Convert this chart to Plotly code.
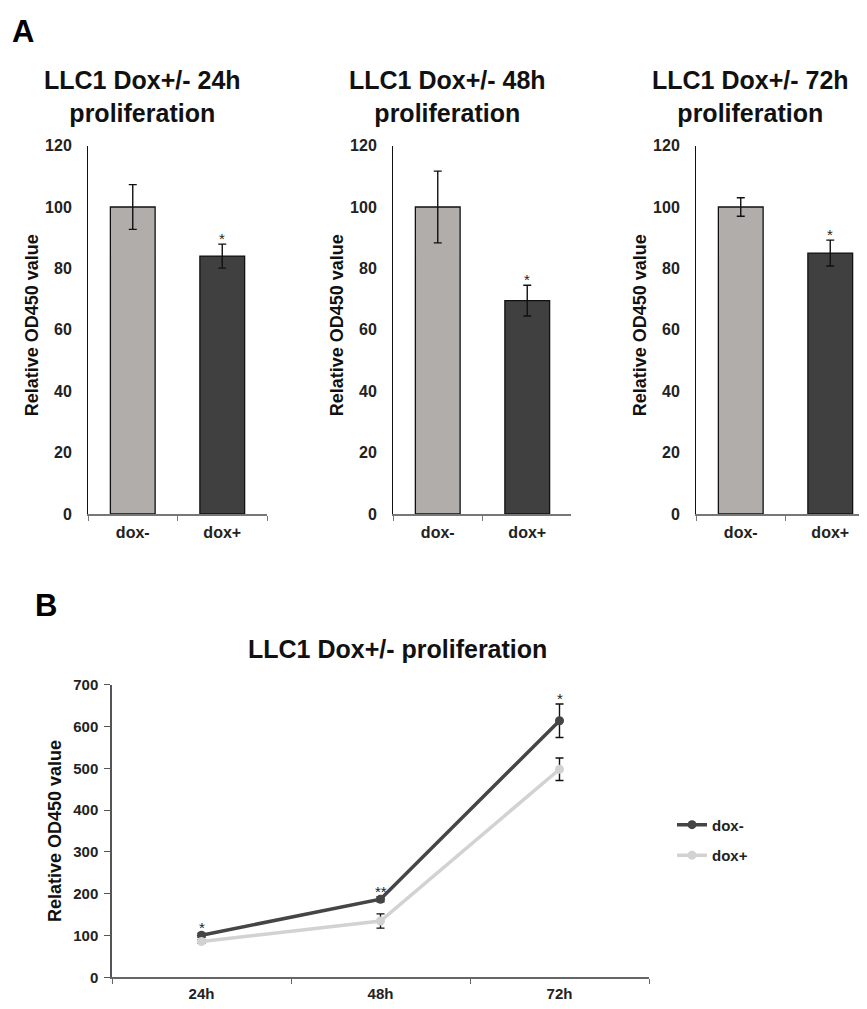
import plotly.graph_objects as go

# page body has an 8px default margin, so the figure is laid out in page
# coordinates shifted by OFF
OFF = 8
W, H = 867 - OFF, 1009 - OFF

# ---------------- data ----------------
bar_categories = ["dox-", "dox+"]
bar_titles = ["LLC1 Dox+/- 24h<br>proliferation",
              "LLC1 Dox+/- 48h<br>proliferation",
              "LLC1 Dox+/- 72h<br>proliferation"]
vals_24h = [100, 84]
errs_24h = [7.3, 3.9]
vals_48h = [100, 69.5]
errs_48h = [11.7, 5.0]
vals_72h = [100, 85]
errs_72h = [3.0, 4.2]
bar_y_ticks = [0, 20, 40, 60, 80, 100, 120]

time_points = ["24h", "48h", "72h"]
dox_minus = [101, 187, 614]
dox_minus_err = [5, 6, 40]
dox_plus = [86, 135, 498]
dox_plus_err = [4, 17, 27]
line_y_ticks = [0, 100, 200, 300, 400, 500, 600, 700]
line_title = "LLC1 Dox+/- proliferation"
stars_line = ["*", "**", "*"]
y_title = "Relative OD450 value"

# ---------------- style ----------------
FONT = "Liberation Sans"
LIGHT = "#b0adab"
DARK = "#404040"
LINE_DARK = "#454545"
LINE_LIGHT = "#d2d2d2"


def px(x):
    return (x - OFF) / W


def py(y):
    return 1 - (y - OFF) / H


def xd(a, b):
    return [max(0, px(a)), min(1, px(b))]


def yd(top, bottom):
    return [py(bottom), py(top)]


fig = go.Figure()

bar_sets = [(vals_24h, errs_24h), (vals_48h, errs_48h), (vals_72h, errs_72h)]
x_px = [(88, 267), (393, 571), (696, 867)]
cat_w = (267 - 88) / 2.0

for i, ((v, e), (xa, xb)) in enumerate(zip(bar_sets, x_px)):
    n = "" if i == 0 else str(i + 1)
    fig.add_trace(go.Bar(
        x=bar_categories, y=v,
        marker=dict(color=[LIGHT, DARK], line=dict(color="#111111", width=1.3)),
        width=0.5,
        error_y=dict(type="data", array=e, color="#111111", thickness=1.4, width=4),
        xaxis="x" + n, yaxis="y" + n, showlegend=False,
    ))
    xr = [-0.5, -0.5 + (xb - xa) / cat_w]
    fig.layout["xaxis" + n] = dict(
        domain=xd(xa, xb), anchor="y" + n, type="category", range=xr,
        tickson="boundaries", ticks="outside", ticklen=5, tickcolor="#777777",
        showline=True, linecolor="#777777", linewidth=1.5, showgrid=False,
        tickfont=dict(family=FONT, size=16, color="#222222", weight="bold"),
        ticklabelstandoff=3,
    )
    fig.layout["yaxis" + n] = dict(
        domain=yd(139, 514), anchor="x" + n, range=[0, 120],
        tickvals=bar_y_ticks, ticks="", showline=True, linecolor="#111111",
        linewidth=1, showgrid=False, zeroline=False,
        tickfont=dict(family=FONT, size=16, color="#222222", weight="bold"),
        ticklabelstandoff=12,
    )
    # title
    fig.add_annotation(
        text=bar_titles[i], xref="paper", yref="paper",
        x=px(xa + 54), y=py(89), xanchor="center", yanchor="middle",
        showarrow=False, font=dict(family=FONT, size=25, color="#111111", weight="bold"),
    )
    # y title
    fig.add_annotation(
        text=y_title, xref="paper", yref="paper",
        x=px(xa - 56), y=py(322), xanchor="center", yanchor="middle",
        textangle=-90, showarrow=False,
        font=dict(family=FONT, size=18, color="#111111", weight="bold"),
    )
    # significance star
    fig.add_annotation(
        text="*", xref="x" + n, yref="y" + n,
        x=bar_categories[1], y=v[1] + e[1], yanchor="bottom", yshift=-5,
        showarrow=False, font=dict(family=FONT, size=15, color="#222222"),
    )

# ---------------- panel B ----------------
fig.add_trace(go.Scatter(
    x=time_points, y=dox_minus, name="dox-", mode="lines+markers",
    line=dict(color=LINE_DARK, width=3.5), marker=dict(size=9, color=LINE_DARK),
    error_y=dict(type="data", array=dox_minus_err, color="#111111", thickness=1.4, width=4),
    xaxis="x4", yaxis="y4", legendgroup="a",
))
fig.add_trace(go.Scatter(
    x=time_points, y=dox_plus, name="dox+", mode="lines+markers",
    line=dict(color=LINE_LIGHT, width=3.5), marker=dict(size=9, color=LINE_LIGHT),
    error_y=dict(type="data", array=dox_plus_err, color="#111111", thickness=1.4, width=4),
    xaxis="x4", yaxis="y4", legendgroup="b",
))
fig.update_layout(
    xaxis4=dict(
        domain=xd(112, 649), anchor="y4", type="category", range=[-0.5, 2.5],
        tickson="boundaries", ticks="outside", ticklen=5, tickcolor="#666666",
        showline=True, linecolor="#666666", linewidth=1.5, showgrid=False,
        tickfont=dict(family=FONT, size=15, color="#222222", weight="bold"),
        ticklabelstandoff=2,
    ),
    yaxis4=dict(
        domain=yd(688, 986), anchor="x4", range=[0, 700], tickvals=line_y_ticks,
        ticks="outside", ticklen=6, tickcolor="#555555", showline=True,
        linecolor="#555555", linewidth=1.5, showgrid=False, zeroline=False,
        tickfont=dict(family=FONT, size=15, color="#222222", weight="bold"),
        ticklabelstandoff=3,
    ),
)
fig.add_annotation(
    text=line_title, xref="paper", yref="paper", x=px(397), y=py(652),
    xanchor="center", yanchor="middle", showarrow=False,
    font=dict(family=FONT, size=25, color="#111111", weight="bold"),
)
fig.add_annotation(
    text=y_title, xref="paper", yref="paper", x=px(55), y=py(837),
    xanchor="center", yanchor="middle", textangle=-90, showarrow=False,
    font=dict(family=FONT, size=18, color="#111111", weight="bold"),
)
for tp, val, err, s in zip(time_points, dox_minus, dox_minus_err, stars_line):
    fig.add_annotation(
        text=s, xref="x4", yref="y4", x=tp, y=val + err, yanchor="bottom", yshift=-5,
        showarrow=False, font=dict(family=FONT, size=15, color="#222222"),
    )

# panel labels
fig.add_annotation(text="A", xref="paper", yref="paper", x=px(23), y=py(23),
                   xanchor="center", yanchor="middle", showarrow=False,
                   font=dict(family=FONT, size=31, color="#000000", weight="bold"))
fig.add_annotation(text="B", xref="paper", yref="paper", x=px(46), y=py(607),
                   xanchor="center", yanchor="middle", showarrow=False,
                   font=dict(family=FONT, size=31, color="#000000", weight="bold"))

fig.update_layout(
    width=W, height=H, margin=dict(l=0, r=0, t=0, b=0),
    paper_bgcolor="white", plot_bgcolor="white",
    showlegend=True,
    legend=dict(x=px(672), y=py(846), xanchor="left", yanchor="middle",
                traceorder="grouped", tracegroupgap=8,
                font=dict(family=FONT, size=15, color="#222222", weight="bold"),
                bgcolor="rgba(0,0,0,0)", itemwidth=30),
)

fig.write_html("out.html")
